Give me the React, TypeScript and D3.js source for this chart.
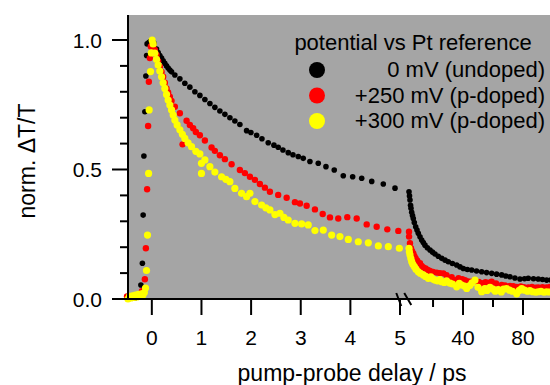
import React, { useEffect, useRef } from "react";
import * as d3 from "d3";

// [delay ps, norm dT/T] - first panel (linear, -0.5..5 ps)
const blackFast: [number, number][] = [
  [-0.46, 0.005], [-0.4, 0.008], [-0.34, 0.004], [-0.29, 0.012], [-0.25, 0.02],
  [-0.22, 0.054], [-0.19, 0.138], [-0.175, 0.324], [-0.16, 0.552], [-0.14, 0.723],
  [-0.12, 0.861], [-0.105, 0.94], [-0.095, 0.985], [-0.06, 0.99], [-0.03, 0.995],
  [0, 1.0], [0.04, 0.988], [0.095, 0.965], [0.127, 0.952], [0.161, 0.94], [0.196, 0.93],
  [0.228, 0.92], [0.262, 0.91], [0.296, 0.9], [0.329, 0.892], [0.363, 0.884], [0.397, 0.877],
  [0.464, 0.865], [0.565, 0.85], [0.665, 0.833], [0.766, 0.818], [0.867, 0.8], [0.968, 0.786],
  [1.069, 0.77], [1.17, 0.755], [1.27, 0.74], [1.371, 0.726], [1.472, 0.713], [1.573, 0.7],
  [1.673, 0.687], [1.774, 0.674], [1.909, 0.65], [1.996, 0.643], [2.111, 0.632], [2.218, 0.619],
  [2.345, 0.603], [2.46, 0.594], [2.546, 0.586], [2.641, 0.575], [2.748, 0.565], [2.843, 0.557],
  [2.95, 0.55], [3.05, 0.543], [3.185, 0.531], [3.353, 0.524], [3.508, 0.511], [3.675, 0.498],
  [3.857, 0.476], [4.046, 0.472], [4.228, 0.466], [4.43, 0.454], [4.663, 0.444], [4.899, 0.428],
];
const redFast: [number, number][] = [
  [-0.5, 0.01], [-0.44, 0.006], [-0.38, 0.01], [-0.32, 0.008], [-0.27, 0.015], [-0.2, 0.03],
  [-0.14, 0.076], [-0.12, 0.196], [-0.095, 0.424], [-0.075, 0.668], [-0.06, 0.839],
  [-0.04, 0.93], [-0.02, 0.975], [0.01, 0.99],
  [0.026, 0.981], [0.06, 0.962], [0.095, 0.942], [0.127, 0.918], [0.161, 0.897], [0.196, 0.877],
  [0.228, 0.858], [0.262, 0.835], [0.296, 0.813], [0.329, 0.797], [0.363, 0.781], [0.397, 0.765],
  [0.464, 0.742], [0.565, 0.717], [0.619, 0.597], [0.7, 0.688], [0.766, 0.672], [0.833, 0.659],
  [0.887, 0.645], [0.968, 0.632], [1.069, 0.612], [1.204, 0.585], [1.27, 0.572], [1.371, 0.555],
  [1.472, 0.54], [1.607, 0.52], [1.774, 0.498], [1.875, 0.486], [1.976, 0.472], [2.077, 0.46],
  [2.177, 0.444], [2.278, 0.43], [2.379, 0.414], [2.546, 0.402], [2.716, 0.391], [2.883, 0.374],
  [2.984, 0.369], [3.119, 0.36], [3.286, 0.346], [3.442, 0.328], [3.589, 0.315], [3.756, 0.311],
  [3.938, 0.316], [4.127, 0.311], [4.329, 0.288], [4.53, 0.279], [4.744, 0.269], [4.966, 0.263],
];
const yellowFast: [number, number][] = [
  [-0.48, 0.0], [-0.45, 0.01], [-0.42, 0.004], [-0.39, 0.012], [-0.36, 0.006], [-0.33, 0.015],
  [-0.3, 0.008], [-0.27, 0.018], [-0.24, 0.01], [-0.21, 0.02], [-0.18, 0.015], [-0.15, 0.025],
  [-0.127, 0.042], [-0.107, 0.11], [-0.087, 0.247], [-0.065, 0.485], [-0.054, 0.73],
  [-0.026, 0.878], [-0.01, 0.95], [0.006, 1.0],
  [0.026, 0.985], [0.06, 0.949], [0.095, 0.925], [0.127, 0.903], [0.161, 0.88], [0.196, 0.858],
  [0.228, 0.835], [0.262, 0.813], [0.296, 0.79], [0.329, 0.768], [0.363, 0.749], [0.397, 0.73],
  [0.43, 0.71], [0.464, 0.691], [0.51, 0.672], [0.565, 0.653], [0.615, 0.636], [0.665, 0.62],
  [0.73, 0.603], [0.8, 0.588], [0.887, 0.57], [0.968, 0.56], [1.0, 0.524], [1.0, 0.485],
  [1.069, 0.537], [1.17, 0.511], [1.27, 0.49], [1.405, 0.472], [1.492, 0.462], [1.573, 0.453],
  [1.673, 0.427], [1.808, 0.408], [1.909, 0.395], [1.976, 0.408], [2.077, 0.376], [2.212, 0.363],
  [2.298, 0.352], [2.379, 0.344], [2.48, 0.326], [2.581, 0.331], [2.661, 0.315], [2.748, 0.305],
  [2.883, 0.292], [3.018, 0.29], [3.151, 0.286], [3.286, 0.264], [3.454, 0.266], [3.623, 0.247],
  [3.79, 0.241], [3.958, 0.23], [4.159, 0.221], [4.361, 0.217], [4.563, 0.205], [4.764, 0.202],
  [4.986, 0.196],
];

// second panel (linear, ~5..100 ps)
const blackSlow: [number, number][] = [
  [3.97, 0.414], [4.3, 0.398], [4.63, 0.382], [5.0, 0.362], [5.3, 0.35], [5.77, 0.335],
  [6.3, 0.322], [6.83, 0.311], [7.5, 0.295], [8.43, 0.279], [9.3, 0.266], [10.17, 0.254],
  [11.3, 0.24], [12.43, 0.228], [13.5, 0.218], [14.63, 0.208], [16.2, 0.198], [17.97, 0.189],
  [19.6, 0.181], [21.3, 0.174], [23.5, 0.165], [25.77, 0.157], [28, 0.15], [30.17, 0.144],
  [32.9, 0.137], [35.77, 0.131], [38, 0.124], [40.17, 0.118], [42.9, 0.114], [45.77, 0.112],
  [49, 0.108], [52.43, 0.105], [55.7, 0.102], [59.1, 0.099], [62.4, 0.096], [65.77, 0.093],
  [68.5, 0.089], [71.3, 0.086], [74.6, 0.081], [77.97, 0.077], [81, 0.078], [83.5, 0.08],
  [87, 0.078], [90.17, 0.077], [93, 0.075], [95.77, 0.073], [98.5, 0.073],
];
const redSlow: [number, number][] = [
  [3.97, 0.26], [4.0, 0.241], [4.63, 0.215], [5.3, 0.196], [6.0, 0.185], [6.83, 0.176],
  [7.6, 0.165], [8.43, 0.157], [9.5, 0.148], [11.3, 0.138], [12.4, 0.128], [13.5, 0.122],
  [15, 0.118], [16.5, 0.112], [17.97, 0.108], [20, 0.104], [22.43, 0.102], [24.5, 0.1],
  [26.83, 0.099], [29, 0.092], [32.43, 0.084], [34.63, 0.073], [37, 0.08], [39.5, 0.076],
  [41.3, 0.073], [43.5, 0.068], [45.77, 0.067], [48, 0.071], [50.5, 0.066], [52.43, 0.061],
  [55, 0.065], [57.5, 0.063], [59.1, 0.067], [62, 0.06], [65.77, 0.054], [68, 0.052],
  [71.3, 0.05], [73.5, 0.049], [75.77, 0.047], [78.5, 0.048], [80.5, 0.046], [83.5, 0.045],
  [86, 0.047], [88.5, 0.044], [90.17, 0.045], [93, 0.046], [95.77, 0.045], [98, 0.047],
];
const yellowSlow: [number, number][] = [
  [3.97, 0.196], [4.2, 0.182], [4.63, 0.17], [5.2, 0.156], [5.77, 0.144], [6.5, 0.134],
  [7.5, 0.125], [8.6, 0.115], [10.17, 0.105], [11.5, 0.099], [13.5, 0.093], [15, 0.087],
  [16.83, 0.08], [18.5, 0.086], [20, 0.077], [21.3, 0.073], [23, 0.07], [24.5, 0.075],
  [25.77, 0.067], [27.5, 0.064], [29, 0.07], [31.3, 0.061], [33, 0.058], [35.77, 0.047],
  [37.5, 0.06], [39.1, 0.054], [41, 0.05], [42.43, 0.041], [44.5, 0.052], [46, 0.062],
  [47.97, 0.073], [50, 0.045], [52.43, 0.028], [54.5, 0.04], [56, 0.033], [57.97, 0.045],
  [60, 0.038], [61.5, 0.03], [63.5, 0.036], [65.5, 0.027], [67, 0.038], [69.1, 0.04],
  [71, 0.034], [73, 0.03], [75.77, 0.02], [77.5, 0.033], [79.1, 0.04], [81, 0.034],
  [83, 0.03], [84.63, 0.032], [86.5, 0.028], [88.5, 0.026], [90.17, 0.028], [92, 0.03],
  [94, 0.026], [95.77, 0.028], [97.5, 0.027],
];

const seriesLabels = ["0 mV (undoped)", "+250 mV (p-doped)", "+300 mV (p-doped)"];
const seriesColors = ["#000000", "#ff0000", "#ffff00"];
const legendTitle = "potential vs Pt reference";

const yMajorTicks = [0, 0.5, 1.0];
const yMinorTicks = [0.1, 0.2, 0.3, 0.4, 0.6, 0.7, 0.8, 0.9];
const xFastTicks = [0, 1, 2, 3, 4, 5];
const xSlowMajorTicks = [40, 80];
const xSlowMinorTicks = [20, 60];

const width = 550;
const height = 385;
const margin = { top: 15, right: 0, bottom: 86, left: 128 };

const App = () => {
  const ref = useRef<SVGSVGElement>(null);

  useEffect(() => {
    document.body.style.margin = "0";
    const svg = d3.select(ref.current);
    svg.selectAll("*").remove();

    const font = "'Liberation Sans', Arial, sans-serif";
    const y0 = height - margin.bottom;

    //two linear pieces of the broken x axis
    const xFast = d3.scaleLinear().domain([-0.48, 5.05]).range([margin.left, 402.5]);
    const xSlow = d3.scaleLinear().domain([3.3, 98]).range([408, width]);
    const y = d3.scaleLinear().domain([0, 1.0965]).range([y0, margin.top]);

    svg
      .append("rect")
      .attr("x", margin.left)
      .attr("y", margin.top)
      .attr("width", width - margin.left)
      .attr("height", y0 - margin.top)
      .attr("fill", "#a5a5a5");

    const groups = [
      [blackFast, blackSlow, 2.8],
      [redFast, redSlow, 3.2],
      [yellowFast, yellowSlow, 3.6],
    ] as [[number, number][], [number, number][], number][];

    groups.forEach(([fast, slow, r], i) => {
      const g = svg.append("g").attr("fill", seriesColors[i]);
      g.selectAll(".f")
        .data(fast)
        .enter()
        .append("circle")
        .attr("cx", (d) => xFast(d[0]))
        .attr("cy", (d) => y(d[1]))
        .attr("r", r);
      g.selectAll(".s")
        .data(slow)
        .enter()
        .append("circle")
        .attr("cx", (d) => xSlow(d[0]))
        .attr("cy", (d) => y(d[1]))
        .attr("r", r);
    });

    //axes
    const axis = svg.append("g").attr("stroke", "#000").attr("stroke-width", 2).attr("fill", "none");
    axis.append("line").attr("x1", margin.left).attr("x2", margin.left).attr("y1", margin.top).attr("y2", y0 + 1);
    axis.append("line").attr("x1", margin.left - 1).attr("x2", width).attr("y1", y0).attr("y2", y0);

    yMajorTicks.forEach((t) =>
      axis.append("line").attr("x1", margin.left - 16).attr("x2", margin.left).attr("y1", y(t)).attr("y2", y(t))
    );
    yMinorTicks.forEach((t) =>
      axis.append("line").attr("x1", margin.left - 8).attr("x2", margin.left).attr("y1", y(t)).attr("y2", y(t))
    );
    xFastTicks.forEach((t) =>
      axis.append("line").attr("x1", xFast(t)).attr("x2", xFast(t)).attr("y1", y0).attr("y2", y0 + 16)
    );
    xSlowMajorTicks.forEach((t) =>
      axis.append("line").attr("x1", xSlow(t)).attr("x2", xSlow(t)).attr("y1", y0).attr("y2", y0 + 16)
    );
    xSlowMinorTicks.forEach((t) =>
      axis.append("line").attr("x1", xSlow(t)).attr("x2", xSlow(t)).attr("y1", y0).attr("y2", y0 + 8)
    );

    //break marks
    const bx = (xFast(5.05) + xSlow(3.3)) / 2;
    axis.append("line").attr("x1", bx - 9).attr("x2", bx - 4).attr("y1", y0 - 6).attr("y2", y0 + 7);
    axis.append("line").attr("x1", bx - 1).attr("x2", bx + 6).attr("y1", y0 - 6).attr("y2", y0 + 6);

    const txt = svg.append("g").attr("font-family", font).attr("fill", "#000");
    yMajorTicks.forEach((t) =>
      txt
        .append("text")
        .attr("x", 102)
        .attr("y", y(t))
        .attr("dy", "0.36em")
        .attr("text-anchor", "end")
        .attr("font-size", 21)
        .text(d3.format(".1f")(t))
    );
    xFastTicks.forEach((t) =>
      txt.append("text").attr("x", xFast(t)).attr("y", 345).attr("text-anchor", "middle").attr("font-size", 21).text(t)
    );
    xSlowMajorTicks.forEach((t) =>
      txt.append("text").attr("x", xSlow(t)).attr("y", 345).attr("text-anchor", "middle").attr("font-size", 21).text(t)
    );

    txt
      .append("text")
      .attr("x", 352)
      .attr("y", 381)
      .attr("text-anchor", "middle")
      .attr("font-size", 23)
      .text("pump-probe delay / ps");
    txt
      .append("text")
      .attr("transform", "translate(35,161) rotate(-90)")
      .attr("text-anchor", "middle")
      .attr("font-size", 23)
      .text("norm. ΔT/T");

    //legend
    const legend = svg.append("g").attr("font-family", font).attr("font-size", 22);
    legend.append("text").attr("x", 413).attr("y", 50).attr("text-anchor", "middle").text(legendTitle);
    seriesLabels.forEach((label, i) => {
      legend.append("circle").attr("cx", 317).attr("cy", 70 + i * 25.5).attr("r", 8).attr("fill", seriesColors[i]);
      legend
        .append("text")
        .attr("x", 545)
        .attr("y", 77 + i * 25.5)
        .attr("text-anchor", "end")
        .text(label);
    });
  }, []);

  return <svg ref={ref} width={width} height={height} style={{ display: "block" }}></svg>;
};

export default App;
